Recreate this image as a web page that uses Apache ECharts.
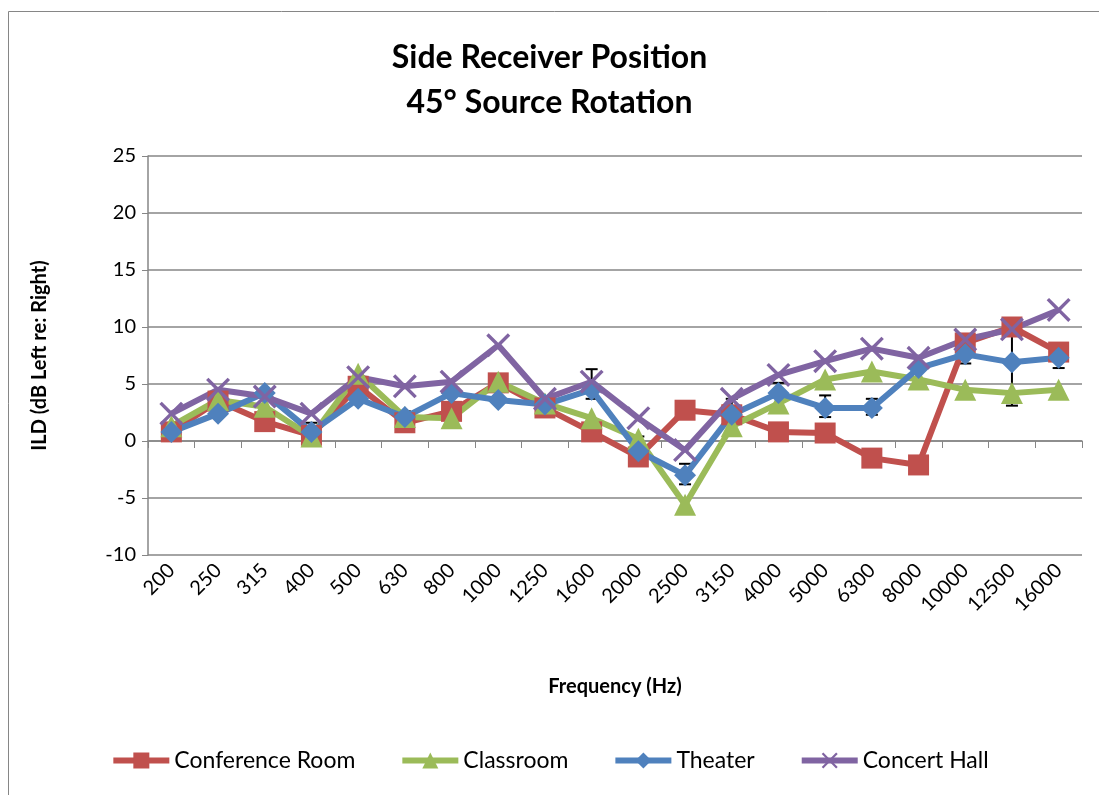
<!DOCTYPE html>
<html>
<head>
<meta charset="utf-8">
<script src="https://cdn.jsdelivr.net/npm/echarts@6/dist/echarts.min.js"></script>
<style>
  html, body { margin: 0; padding: 0; background: #fff; }
  #chart { width: 1099px; height: 795px; }
</style>
</head>
<body>
<div id="chart"></div>
<script>
// Frequency bands (Hz)
const frequencies = ['200', '250', '315', '400', '500', '630', '800', '1000', '1250', '1600',
  '2000', '2500', '3150', '4000', '5000', '6300', '8000', '10000', '12500', '16000'];

// ILD values per room (dB)
const conferenceRoom = [0.8, 3.5, 1.7, 0.5, 4.8, 1.6, 2.6, 5.1, 2.9, 0.8,
  -1.4, 2.7, 2.3, 0.8, 0.7, -1.5, -2.1, 8.6, 10.0, 7.8];
const classroom = [1.3, 3.6, 3.0, 0.4, 5.9, 2.1, 2.0, 5.2, 3.3, 2.0,
  0.2, -5.6, 1.3, 3.3, 5.4, 6.1, 5.4, 4.5, 4.2, 4.5];
const theater = [0.8, 2.4, 4.2, 0.8, 3.7, 2.1, 4.2, 3.6, 3.2, 4.5,
  -0.9, -3.0, 2.3, 4.2, 2.9, 2.9, 6.4, 7.6, 6.9, 7.3];
const concertHall = [2.4, 4.5, 3.9, 2.4, 5.6, 4.8, 5.2, 8.4, 3.7, 5.2,
  2.0, -0.8, 3.7, 5.8, 7.0, 8.1, 7.3, 8.9, 9.8, 11.5];

// error bar ends (null = no bar)
const errLow = [null, null, null, 0.8, null, 1.6, null, null, null, 3.7,
  -0.9, -3.8, 2.3, 4.2, 2.1, 2.3, null, 6.8, 3.1, 6.4];
const errHigh = [null, null, null, 1.6, null, 2.6, null, null, null, 6.3,
  0.4, -2.0, 3.7, 5.1, 4.0, 3.7, null, 8.2, 9.8, 7.3];

const yTicks = { min: -10, max: 25, interval: 5 };

const chart = echarts.init(document.getElementById('chart'));
const font = 'Lato, "Open Sans", sans-serif';
const xShape = 'path://M0,1 L1,0 L5,4 L9,0 L10,1 L6,5 L10,9 L9,10 L5,6 L1,10 L0,9 L4,5Z';

function lineSeries(name, data, color, symbol, size) {
  return {
    name: name,
    type: 'line',
    data: data,
    xAxisIndex: 0,
    symbol: symbol,
    symbolSize: size,
    showSymbol: true,
    lineStyle: { color: color, width: 6 },
    itemStyle: { color: color },
    z: 3
  };
}

const errData = frequencies.map((f, i) => [i, errLow[i], errHigh[i]])
  .filter(d => d[1] !== null);

const options = {
  animation: false,
  backgroundColor: '#fff',
  textStyle: { fontFamily: font },
  graphic: [{
    type: 'rect',
    shape: { x: 8.5, y: 11.5, width: 1100, height: 800 },
    style: { fill: null, stroke: '#868686', lineWidth: 1 },
    silent: true
  }],
  title: {
    text: 'Side Receiver Position\n45° Source Rotation',
    left: 'center',
    top: 30,
    textStyle: { fontFamily: font, fontSize: 32, fontWeight: 'bold', color: '#000', lineHeight: 45 }
  },
  legend: {
    bottom: 18,
    left: 'center',
    itemWidth: 56,
    itemHeight: 20,
    itemGap: 44,
    lineStyle: { width: 6 },
    textStyle: { fontFamily: font, fontSize: 23, color: '#000' },
    data: ['Conference Room', 'Classroom', 'Theater', 'Concert Hall']
  },
  grid: { left: 148, right: 17, top: 156, bottom: 240 },
  xAxis: [{
    type: 'category',
    data: frequencies,
    position: 'bottom',
    axisLine: { onZero: true, lineStyle: { color: '#868686', width: 1.5 } },
    axisTick: { show: true, length: 7, lineStyle: { color: '#868686' } },
    axisLabel: { show: false },
    splitLine: { show: false }
  }, {
    type: 'category',
    data: frequencies,
    position: 'bottom',
    axisLine: { show: false, onZero: false },
    axisTick: { show: false },
    axisLabel: { rotate: 45, fontSize: 20, color: '#000', fontFamily: font, margin: 12 },
    name: 'Frequency (Hz)',
    nameLocation: 'middle',
    nameGap: 122,
    nameTextStyle: { fontFamily: font, fontSize: 20, fontWeight: 'bold', color: '#000' }
  }],
  yAxis: {
    type: 'value',
    min: yTicks.min,
    max: yTicks.max,
    interval: yTicks.interval,
    axisLine: { show: true, lineStyle: { color: '#868686', width: 1.5 } },
    axisTick: { show: true, length: 6, lineStyle: { color: '#868686' } },
    axisLabel: { fontSize: 20, color: '#000', fontFamily: font, margin: 12 },
    splitLine: { lineStyle: { color: '#868686', width: 1.5 } },
    name: 'ILD (dB Left re: Right)',
    nameLocation: 'middle',
    nameGap: 98,
    nameTextStyle: { fontFamily: font, fontSize: 20, fontWeight: 'bold', color: '#000' }
  },
  series: [
    {
      type: 'custom',
      name: 'err',
      xAxisIndex: 0,
      data: errData,
      z: 1,
      renderItem: function (params, api) {
        const lo = api.coord([api.value(0), api.value(1)]);
        const hi = api.coord([api.value(0), api.value(2)]);
        const w = 6;
        const st = { stroke: '#000', lineWidth: 2 };
        return {
          type: 'group',
          children: [
            { type: 'line', shape: { x1: lo[0], y1: lo[1], x2: hi[0], y2: hi[1] }, style: st },
            { type: 'line', shape: { x1: lo[0] - w, y1: lo[1], x2: lo[0] + w, y2: lo[1] }, style: st },
            { type: 'line', shape: { x1: hi[0] - w, y1: hi[1], x2: hi[0] + w, y2: hi[1] }, style: st }
          ]
        };
      }
    },
    lineSeries('Conference Room', conferenceRoom, '#C0504D', 'rect', 21),
    lineSeries('Classroom', classroom, '#9BBB59', 'triangle', 22),
    lineSeries('Theater', theater, '#4F81BD', 'diamond', 22),
    lineSeries('Concert Hall', concertHall, '#8064A2', xShape, 24)
  ]
};

chart.setOption(options);
</script>
</body>
</html>
